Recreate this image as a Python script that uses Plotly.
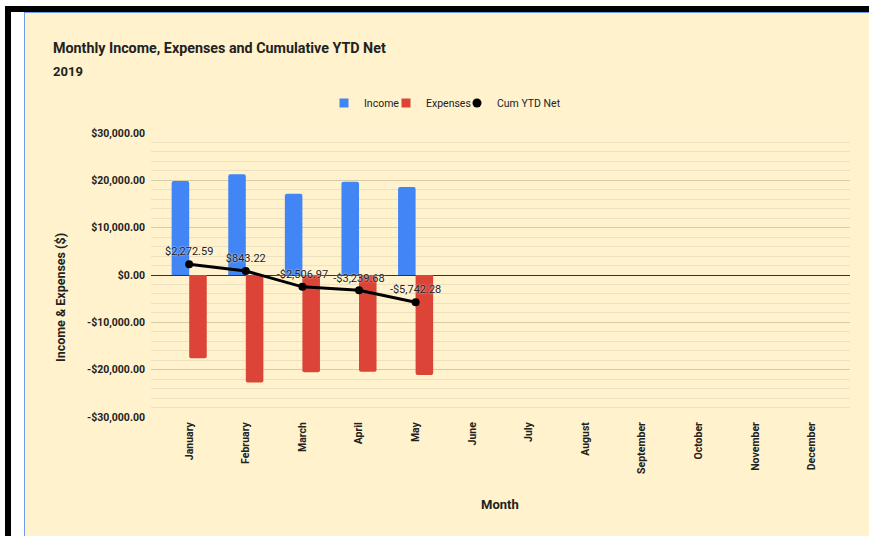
import plotly.graph_objects as go

months = ["January", "February", "March", "April", "May", "June", "July",
          "August", "September", "October", "November", "December"]
income = [19870, 21270, 17190, 19720, 18600]
expenses = [-17597, -22699, -20540, -20453, -21103]
cum_net = [2272.59, 843.22, -2506.97, -3239.68, -5742.28]
ytick_vals = [-30000, -20000, -10000, 0, 10000, 20000, 30000]
ytick_text = ["-$30,000.00", "-$20,000.00", "-$10,000.00", "$0.00",
              "$10,000.00", "$20,000.00", "$30,000.00"]

W, H = 869, 536
L, R, T, B = 151, 850, 133, 417
PW, PH = R - L, B - T


def px(x):
    return (x - L) / PW


def py(y):
    return (B - y) / PH


def money(v):
    return ("-$" if v < 0 else "$") + f"{abs(v):,.2f}"


CREAM = "#fff2cc"
TXT = "#222222"
FONT = "Roboto"
BLUE, RED = "#4285f4", "#db4437"

fig = go.Figure()
fig.add_trace(go.Bar(x=months[:len(income)], y=income, name="Income", showlegend=False,
                     marker=dict(color=BLUE, line=dict(width=0), cornerradius=2)))
fig.add_trace(go.Bar(x=months[:len(expenses)], y=expenses, name="Expenses", showlegend=False,
                     marker=dict(color=RED, line=dict(width=0), cornerradius=2)))
fig.add_trace(go.Scatter(x=months[:len(cum_net)], y=cum_net, name="Cum YTD Net",
                         mode="lines+markers+text", showlegend=False,
                         line=dict(color="#000000", width=3),
                         marker=dict(color="#000000", size=8),
                         text=[money(v) for v in cum_net], textposition="top center",
                         textfont=dict(family=FONT, size=11, color=TXT,
                                       shadow="0px 0px 2px #ffffff"),
                         cliponaxis=False))
# legend entries (one legend each so they can be spaced like the original)
for nm, col, sym, lg in [("Income", BLUE, "square", "legend"),
                         ("Expenses", RED, "square", "legend2"),
                         ("Cum YTD Net", "#000000", "circle", "legend3")]:
    fig.add_trace(go.Scatter(x=[None], y=[None], name=nm, mode="markers", legend=lg,
                             marker=dict(color=col, size=9, symbol=sym)))

shapes = [
    dict(type="rect", xref="paper", yref="paper", x0=px(25), x1=px(W + 2), y0=py(H + 2), y1=py(12.5),
         fillcolor=CREAM, line=dict(width=0), layer="below"),
    dict(type="line", xref="paper", yref="paper", x0=px(24.5), x1=px(24.5), y0=py(H + 2), y1=py(12),
         line=dict(color="#6d9eeb", width=1), layer="below"),
    dict(type="line", xref="paper", yref="paper", x0=px(24.5), x1=px(W + 2), y0=py(12.5), y1=py(12.5),
         line=dict(color="#6d9eeb", width=1), layer="below"),
    dict(type="rect", xref="paper", yref="paper", x0=px(5), x1=px(W + 2), y0=py(12), y1=py(6),
         fillcolor="#000000", line=dict(width=0), layer="below"),
    dict(type="rect", xref="paper", yref="paper", x0=px(5), x1=px(11), y0=py(H + 2), y1=py(6),
         fillcolor="#000000", line=dict(width=0), layer="below"),
]

annotations = [
    dict(text="<b>Monthly Income, Expenses and Cumulative YTD Net</b>", xref="paper", yref="paper",
         x=px(51), y=py(48), xanchor="left", yanchor="middle", showarrow=False,
         font=dict(family=FONT, size=14.3, color=TXT)),
    dict(text="<b>2019</b>", xref="paper", yref="paper",
         x=px(51), y=py(71.5), xanchor="left", yanchor="middle", showarrow=False,
         font=dict(family=FONT, size=13, color=TXT)),
    dict(text="<b>Income & Expenses ($)</b>", xref="paper", yref="paper",
         x=px(60), y=py(298), xanchor="center", yanchor="middle", showarrow=False, textangle=-90,
         font=dict(family=FONT, size=12.5, color=TXT)),
    dict(text="<b>Month</b>", xref="paper", yref="paper",
         x=px(500), y=py(504), xanchor="center", yanchor="middle", showarrow=False,
         font=dict(family=FONT, size=13, color=TXT)),
]


def leg(text_start):
    return dict(orientation="h", x=px(text_start - 40), y=py(103), xanchor="left", yanchor="middle",
                font=dict(family=FONT, size=10.5, color=TXT), bgcolor="rgba(0,0,0,0)",
                itemwidth=30, borderwidth=0)


fig.update_layout(
    width=W, height=H,
    margin=dict(l=L, r=W - R, t=T, b=H - B, pad=0),
    paper_bgcolor="#ffffff", plot_bgcolor=CREAM,
    barmode="group", bargap=0.38, bargroupgap=0,
    font=dict(family=FONT, color=TXT),
    shapes=shapes, annotations=annotations,
    legend=leg(364), legend2=leg(426), legend3=leg(497),
    xaxis=dict(categoryorder="array", categoryarray=months, range=[-0.675, 11.675],
               tickangle=-90, showgrid=False, showline=False, zeroline=False, ticks="",
               tickfont=dict(family=FONT, size=10.5, color=TXT, weight="bold"),
               ticklabelstandoff=2),
    yaxis=dict(range=[-30000, 30000], tickvals=ytick_vals, ticktext=ytick_text,
               showgrid=True, gridcolor="#d8cca8", gridwidth=1,
               minor=dict(dtick=2000, tick0=0, showgrid=True, gridcolor="#ece1c1", gridwidth=1),
               zeroline=True, zerolinecolor="#333333", zerolinewidth=1,
               showline=False, ticks="", ticklabelstandoff=5,
               tickfont=dict(family=FONT, size=10.5, color=TXT, weight="bold")),
)

fig.write_html("out.html", config={"displayModeBar": False},
               post_script="document.body.style.margin='0';document.body.style.overflow='hidden';")
